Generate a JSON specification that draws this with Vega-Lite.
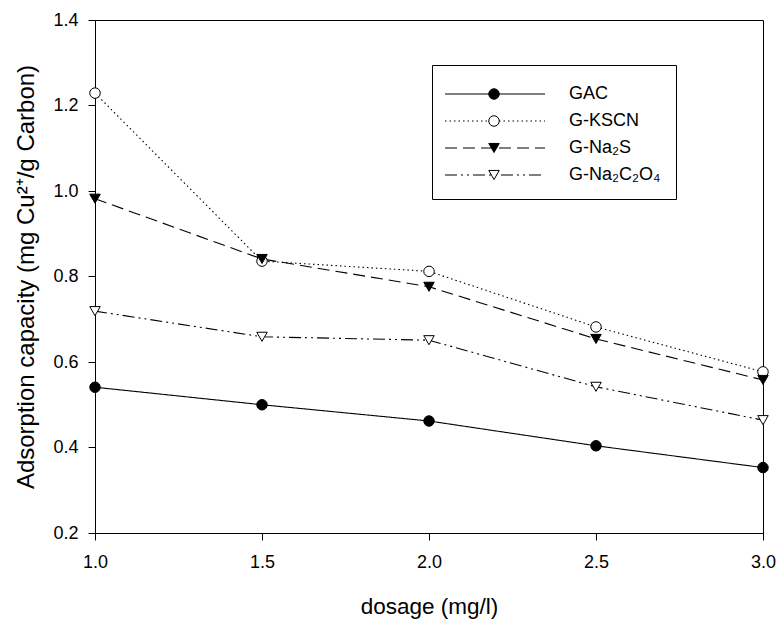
{
  "$schema": "https://vega.github.io/schema/vega-lite/v6.json",
  "autosize": {"type": "none"},
  "padding": {"left": 95, "top": 20, "right": 17, "bottom": 86},
  "width": 668,
  "height": 513,
  "background": "white",
  "config": {
    "view": {"stroke": "black", "strokeWidth": 1},
    "font": "Liberation Sans",
    "axis": {
      "grid": false,
      "domainColor": "black",
      "domainWidth": 1,
      "tickColor": "black",
      "tickSize": 7,
      "tickWidth": 1,
      "labelFont": "Liberation Sans",
      "labelFontSize": 18,
      "labelColor": "black",
      "labelFlush": false,
      "labelOverlap": false,
      "titleFont": "Liberation Sans",
      "titleFontWeight": "normal",
      "titleColor": "black"
    }
  },
  "data": {
    "values": [
      {"dosage": 1.0, "capacity": 0.541, "series": "GAC"},
      {"dosage": 1.5, "capacity": 0.500, "series": "GAC"},
      {"dosage": 2.0, "capacity": 0.462, "series": "GAC"},
      {"dosage": 2.5, "capacity": 0.404, "series": "GAC"},
      {"dosage": 3.0, "capacity": 0.353, "series": "GAC"},
      {"dosage": 1.0, "capacity": 1.229, "series": "G-KSCN"},
      {"dosage": 1.5, "capacity": 0.836, "series": "G-KSCN"},
      {"dosage": 2.0, "capacity": 0.812, "series": "G-KSCN"},
      {"dosage": 2.5, "capacity": 0.682, "series": "G-KSCN"},
      {"dosage": 3.0, "capacity": 0.577, "series": "G-KSCN"},
      {"dosage": 1.0, "capacity": 0.982, "series": "G-Na₂S"},
      {"dosage": 1.5, "capacity": 0.841, "series": "G-Na₂S"},
      {"dosage": 2.0, "capacity": 0.776, "series": "G-Na₂S"},
      {"dosage": 2.5, "capacity": 0.654, "series": "G-Na₂S"},
      {"dosage": 3.0, "capacity": 0.558, "series": "G-Na₂S"},
      {"dosage": 1.0, "capacity": 0.719, "series": "G-Na₂C₂O₄"},
      {"dosage": 1.5, "capacity": 0.659, "series": "G-Na₂C₂O₄"},
      {"dosage": 2.0, "capacity": 0.651, "series": "G-Na₂C₂O₄"},
      {"dosage": 2.5, "capacity": 0.542, "series": "G-Na₂C₂O₄"},
      {"dosage": 3.0, "capacity": 0.464, "series": "G-Na₂C₂O₄"}
    ]
  },
  "encoding": {
    "x": {
      "field": "dosage",
      "type": "quantitative",
      "scale": {"domain": [1, 3], "nice": false, "zero": false},
      "axis": {
        "title": "dosage (mg/l)",
        "titleFontSize": 22.5,
        "values": [1, 1.5, 2, 2.5, 3],
        "format": ".1f",
        "labelPadding": 13,
        "titleY": 80,
        "titleBaseline": "alphabetic"
      }
    },
    "y": {
      "field": "capacity",
      "type": "quantitative",
      "scale": {"domain": [0.2, 1.4], "nice": false, "zero": false},
      "axis": {
        "title": "Adsorption capacity (mg Cu²⁺/g Carbon)",
        "titleFontSize": 24,
        "values": [0.2, 0.4, 0.6, 0.8, 1.0, 1.2, 1.4],
        "format": ".1f",
        "labelPadding": 10,
        "titleX": -62,
        "titleBaseline": "alphabetic"
      }
    }
  },
  "layer": [
    {
      "mark": {"type": "line", "color": "black", "strokeWidth": 1.1},
      "encoding": {
        "strokeDash": {
          "field": "series",
          "type": "nominal",
          "sort": ["GAC", "G-KSCN", "G-Na₂S", "G-Na₂C₂O₄"],
          "scale": {"range": [[1, 0], [1.5, 3], [12, 6], [12, 4, 2, 4, 2, 4]]},
          "legend": {
            "orient": "none",
            "direction": "vertical",
            "legendX": 337,
            "legendY": 45,
            "title": " ",
            "titleOrient": "top",
            "titleFontSize": 5,
            "titlePadding": 0,
            "symbolType": "M-10,0L10,0",
            "symbolSize": 100,
            "symbolStrokeColor": "black",
            "symbolStrokeWidth": 1.1,
            "symbolOffset": 39,
            "labelOffset": 65,
            "labelFont": "Liberation Sans",
            "labelFontSize": 18,
            "labelColor": "black",
            "strokeColor": "black",
            "padding": 15,
            "rowPadding": 9
          }
        }
      }
    },
    {
      "mark": {"type": "point", "strokeWidth": 1, "size": 110, "opacity": 1, "filled": false},
      "encoding": {
        "shape": {
          "field": "series",
          "type": "nominal",
          "scale": {
            "domain": ["GAC", "G-KSCN", "G-Na₂S", "G-Na₂C₂O₄"],
            "range": ["circle", "circle", "triangle-down", "triangle-down"]
          },
          "legend": {
            "orient": "none",
            "direction": "vertical",
            "legendX": 337,
            "legendY": 50,
            "title": null,
            "symbolSize": 110,
            "symbolStrokeWidth": 1,
            "symbolOffset": 38,
            "labelExpr": "''",
            "labelFontSize": 18,
            "padding": 15,
            "rowPadding": 9
          }
        },
        "fill": {
          "field": "series",
          "type": "nominal",
          "scale": {
            "domain": ["GAC", "G-KSCN", "G-Na₂S", "G-Na₂C₂O₄"],
            "range": ["black", "white", "black", "white"]
          },
          "legend": {
            "orient": "none",
            "direction": "vertical",
            "legendX": 337,
            "legendY": 50,
            "title": null,
            "symbolSize": 110,
            "symbolStrokeWidth": 1,
            "symbolOffset": 38,
            "labelExpr": "''",
            "labelFontSize": 18,
            "padding": 15,
            "rowPadding": 9
          }
        },
        "stroke": {
          "field": "series",
          "type": "nominal",
          "scale": {
            "domain": ["GAC", "G-KSCN", "G-Na₂S", "G-Na₂C₂O₄"],
            "range": ["black", "black", "black", "black"]
          },
          "legend": {
            "orient": "none",
            "direction": "vertical",
            "legendX": 337,
            "legendY": 50,
            "title": null,
            "symbolSize": 110,
            "symbolStrokeWidth": 1,
            "symbolOffset": 38,
            "labelExpr": "''",
            "labelFontSize": 18,
            "padding": 15,
            "rowPadding": 9
          }
        }
      }
    }
  ]
}
